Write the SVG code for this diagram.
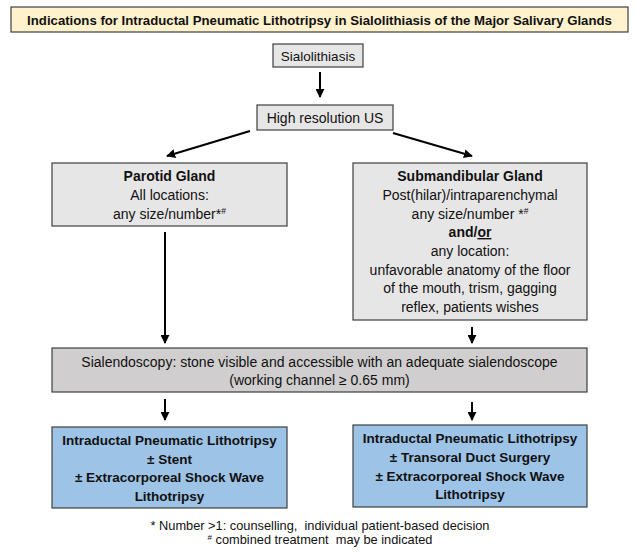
<svg xmlns="http://www.w3.org/2000/svg" width="639" height="552" viewBox="0 0 639 552">
<defs>
<style>
text{font-family:"Liberation Sans",Arial,sans-serif;font-size:14px;fill:#111;text-anchor:middle}
.b{font-weight:bold}
.bt{font-weight:bold;font-size:13.5px}
.ti{font-weight:bold;font-size:13.2px}
.box{stroke:#3f3f3f;stroke-width:1.2}
.g{fill:#e7e6e6}
.d{fill:#d0cece}
.bl{fill:#9dc3e6}
.t{fill:#fff2cc}
.c line{stroke:#000;stroke-width:2;marker-end:url(#ah)}
.fn{font-size:12.8px;white-space:pre}
</style>
<marker id="ah" viewBox="0 0 10 10" refX="9" refY="5" markerWidth="4.5" markerHeight="4.5" orient="auto" markerUnits="strokeWidth">
<path d="M0,0 L10,5 L0,10 z" fill="#000"/>
</marker>
</defs>
<rect width="639" height="552" fill="#fff"/>
<g id="title">
<rect class="box t" x="11" y="7" width="617" height="25"/>
<text class="ti" x="319.5" y="24.5">Indications for Intraductal Pneumatic Lithotripsy in Sialolithiasis of the Major Salivary Glands</text>
</g>
<g id="sialolithiasis">
<rect class="box g" x="273" y="44" width="90" height="23"/>
<text x="318" y="60.5" style="font-size:13.5px">Sialolithiasis</text>
</g>
<g id="hrus">
<rect class="box g" x="257" y="105" width="136" height="25"/>
<text x="325" y="122.5">High resolution US</text>
</g>
<g id="parotid">
<rect class="box g" x="52" y="163" width="235" height="63"/>
<text class="b" x="169.5" y="181">Parotid Gland</text>
<text x="169.5" y="200">All locations:</text>
<text x="169.5" y="218.5">any size/number*<tspan font-size="8.5" dy="-5">#</tspan></text>
</g>
<g id="submandibular">
<rect class="box g" x="353" y="163" width="234" height="157"/>
<text class="b" x="470" y="181">Submandibular Gland</text>
<text x="470" y="200">Post(hilar)/intraparenchymal</text>
<text x="470" y="218.5">any size/number *<tspan font-size="8.5" dy="-5">#</tspan></text>
<text class="b" x="470" y="237">and/<tspan text-decoration="underline">or</tspan></text>
<text x="470" y="256">any location:</text>
<text x="470" y="274.5">unfavorable anatomy of the floor</text>
<text x="470" y="293">of the mouth, trism, gagging</text>
<text x="470" y="312">reflex, patients wishes</text>
</g>
<g id="sialendoscopy">
<rect class="box d" x="52" y="348" width="535" height="44"/>
<text x="319.5" y="366.5">Sialendoscopy: stone visible and accessible with an adequate sialendoscope</text>
<text x="319.5" y="385">(working channel ≥ 0.65 mm)</text>
</g>
<g id="treat-left">
<rect class="box bl" x="52" y="427" width="235" height="81"/>
<text class="bt" x="169.5" y="445">Intraductal Pneumatic Lithotripsy</text>
<text class="bt" x="169.5" y="463.5">± Stent</text>
<text class="bt" x="169.5" y="482">± Extracorporeal Shock Wave</text>
<text class="bt" x="169.5" y="500.5">Lithotripsy</text>
</g>
<g id="treat-right">
<rect class="box bl" x="353" y="425" width="234" height="82"/>
<text class="bt" x="470" y="443">Intraductal Pneumatic Lithotripsy</text>
<text class="bt" x="470" y="462">± Transoral Duct Surgery</text>
<text class="bt" x="470" y="480.5">± Extracorporeal Shock Wave</text>
<text class="bt" x="470" y="499">Lithotripsy</text>
</g>
<g id="footnotes">
<text class="fn" x="320" y="530">* Number &gt;1: counselling,  individual patient-based decision</text>
<text class="fn" x="320" y="544"><tspan font-size="8" dy="-4">#</tspan><tspan dy="4"> combined treatment  may be indicated</tspan></text>
</g>
<g id="connectors" class="c">
<line x1="320" y1="72" x2="320" y2="97"/>
<line x1="250" y1="131" x2="167" y2="156"/>
<line x1="393" y1="133" x2="472" y2="156"/>
<line x1="165" y1="232" x2="165" y2="343"/>
<line x1="472" y1="327" x2="472" y2="343"/>
<line x1="165" y1="399" x2="165" y2="420"/>
<line x1="472" y1="402" x2="472" y2="420"/>
</g>
</svg>
